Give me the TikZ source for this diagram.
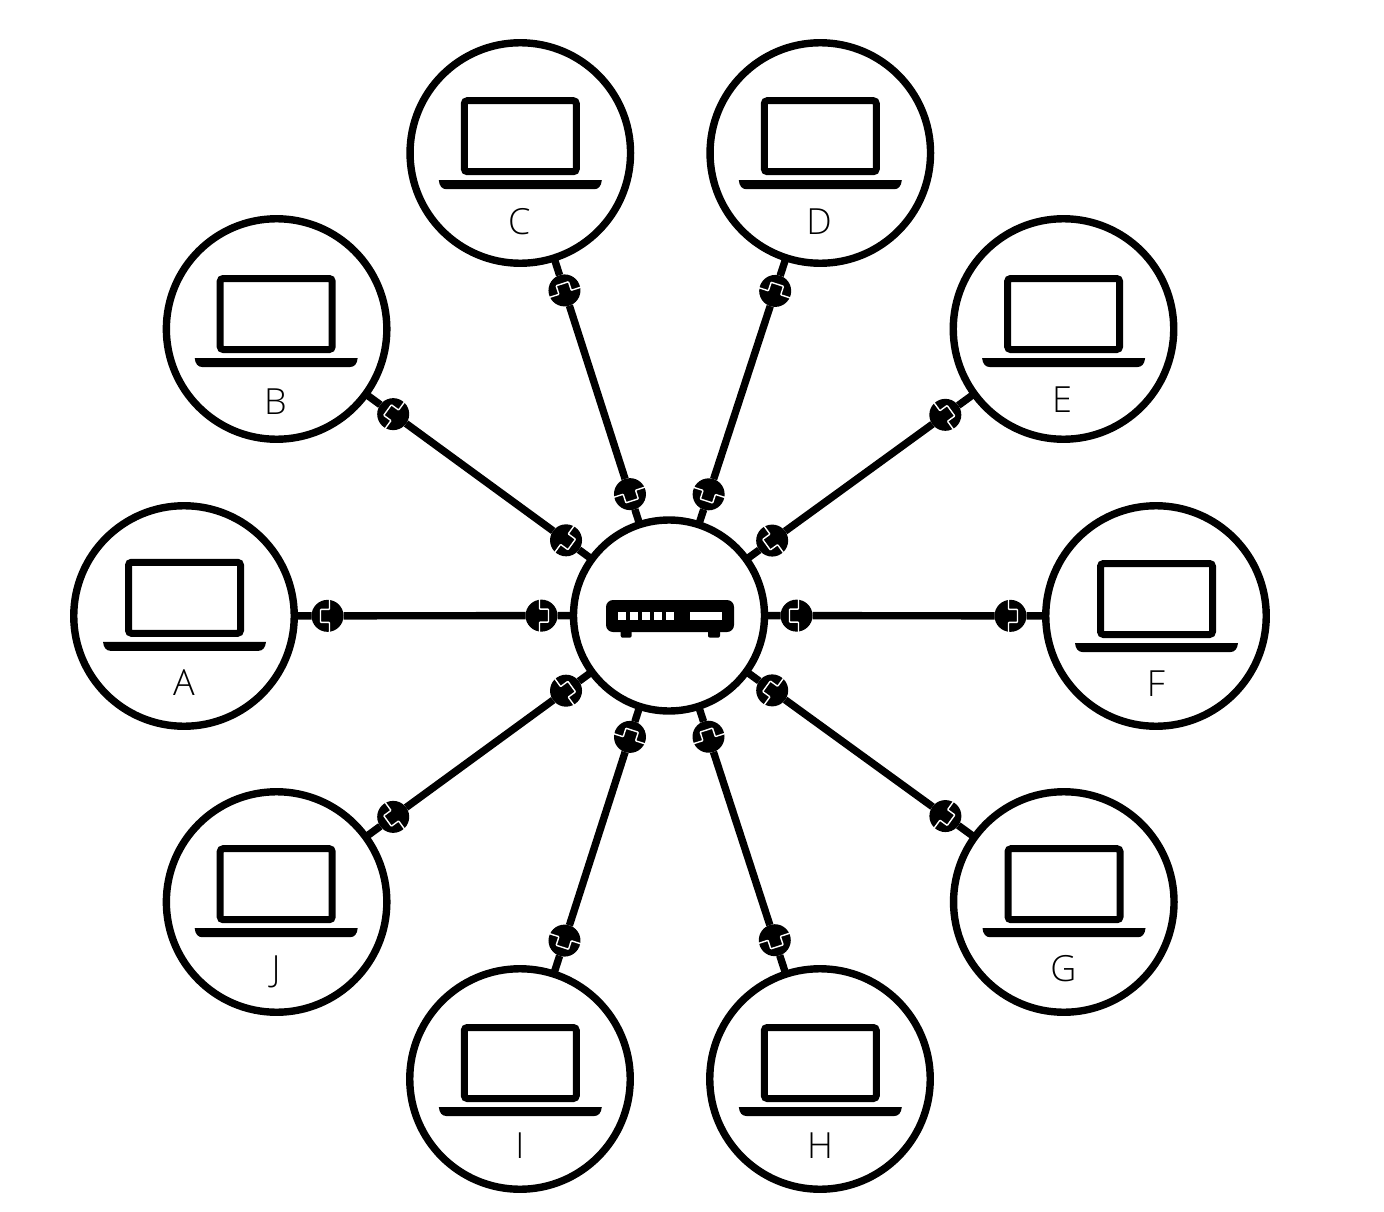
\documentclass[tikz,border=0pt]{standalone}
\usepackage{fontspec}
\usetikzlibrary{calc}
\newfontfamily\lblfont{Open Sans Light}
\tikzset{
  x=1pt,y=-1pt,
  every node/.style={inner sep=0pt,outer sep=0pt},
  bigcircle/.style={circle,draw=black,fill=white,line width=7.4pt,minimum size=220.5pt},
  plugdisc/.style={circle,fill=black,minimum size=32pt},
  link/.style={draw=black,line width=7.4pt},
  zig/.style={draw=white,line width=1.4pt,rounded corners=0.7pt},
  lbl/.style={anchor=base,font=\lblfont\fontsize{36}{36}\selectfont,text=black},
  scr/.style={draw=black,line width=7pt,rounded corners=3pt},
  pics/laptop/.style={code={
    \draw[scr] (-56,-35.5) rectangle (56,35.5);
    \fill[black] (-81.5,44) -- (81.5,44) .. controls (81,50) and (78,53) .. (74,53)
       -- (-74,53) .. controls (-78,53) and (-81,50) .. (-81.5,44) -- cycle;
  }},
  pics/zigzag/.style={code={
    \draw[zig] (-2pt,-17pt) -- (-2pt,-6.5pt) -- (7pt,-6.5pt) -- (7pt,6.5pt) -- (-2pt,6.5pt) -- (-2pt,17pt);
  }}
}
\begin{document}
\begin{tikzpicture}
\useasboundingbox[fill=white] (0,0) rectangle (1384,1212);
% hub
\node[bigcircle,minimum size=191pt] (hub) at (669,615.5) {};
\fill[black,rounded corners=7pt] (606,600) rectangle (734,632);
\fill[black,rounded corners=2pt] (620.7,625) rectangle (631.7,637.7);
\fill[black,rounded corners=2pt] (708,625) rectangle (720,637.7);
\foreach \a/\b in {618.3/626,630/637.7,641.7/650,654/662,666/674,689.7/722}
  \fill[white] (\a,611.7) rectangle (\b,620);
% terminals: name/ang/x/y/laptop x/laptop y/label x/label baseline
\foreach \n/\ang/\x/\y/\lx/\ly/\tx/\ty in {
  A/180/184/616/184.5/597.8/184/695,
  B/144/276.6/329/276.2/314/275.3/414,
  C/108/520.3/153/520.3/136.2/519.3/234.3,
  D/72/820.3/153/820.3/136.2/819/234.3,
  E/36/1063.5/329/1063.6/314/1062/412,
  F/0/1156/616/1156.5/599/1156/696,
  G/-36/1063.8/902/1064/884.2/1063.3/981.7,
  H/-72/820/1079/820.3/1063/820/1158,
  I/-108/520/1079/520.3/1063/520/1158,
  J/-144/276.6/902/276.2/884.2/276/981}{
  \node[bigcircle] (\n) at (\x,\y) {};
  \pic at (\lx,\ly) {laptop};
  \node[lbl] (t\n) at (\tx,\ty) {\n};
  \node[plugdisc] (\n h) at ($(hub)!127.5pt!(\n)$) {};
  \node[plugdisc] (\n o) at ($(hub)!341.5pt!(\n)$) {};
  \draw[link] (hub) -- (\n h);
  \draw[link] (\n h) -- (\n o);
  \draw[link] (\n o) -- (\n);
  \pic[rotate=\ang] at (\n o) {zigzag};
  \pic[rotate=\ang+180] at (\n h) {zigzag};
}
\end{tikzpicture}
\end{document}
